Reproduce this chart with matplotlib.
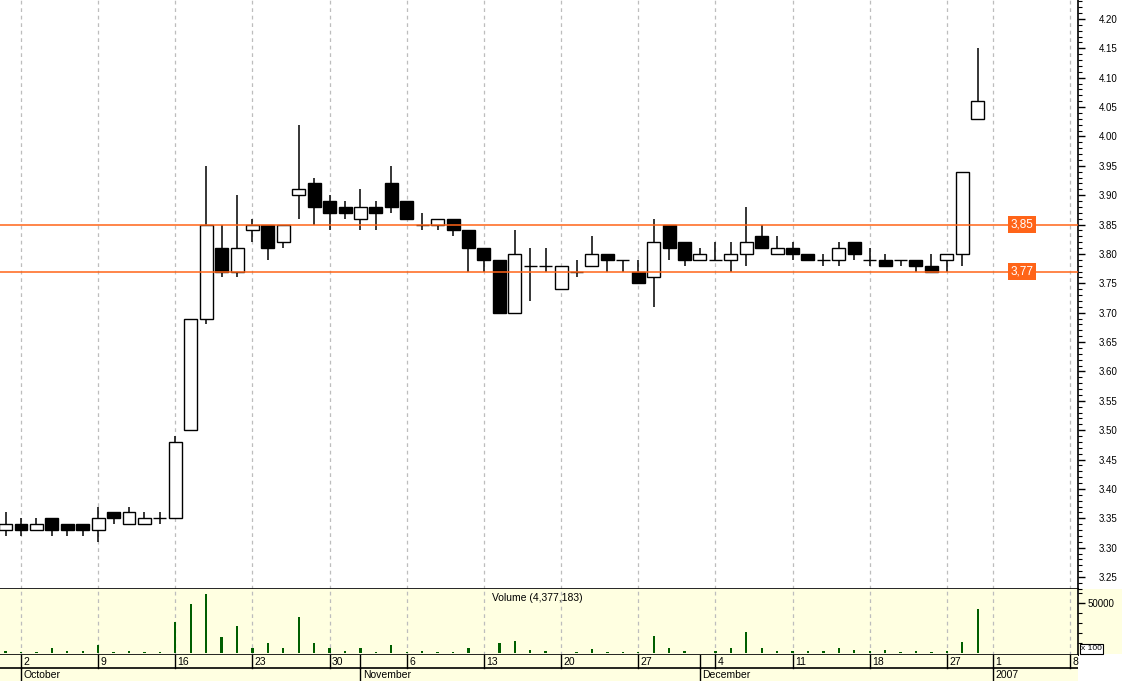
import matplotlib
matplotlib.use("Agg")
import matplotlib.pyplot as plt
from matplotlib.patches import Rectangle
import numpy as np
import pandas as pd

# trading calendar (x positions are trading-day slots); Dec 25/26 closed
calendar = pd.bdate_range("2006-09-29", "2007-01-12")
calendar = calendar[~calendar.isin(pd.to_datetime(["2006-12-25", "2006-12-26"]))]
n_days = 64  # Sep 29 .. Dec 29 have data

opens = [3.33, 3.34, 3.33, 3.35, 3.34, 3.34, 3.33, 3.36, 3.34, 3.34, 3.35,
         3.35, 3.50, 3.69, 3.81, 3.77, 3.84, 3.85, 3.82, 3.90, 3.92,
         3.89, 3.88, 3.86, 3.88, 3.92, 3.89, 3.85, 3.85, 3.86, 3.84,
         3.81, 3.79, 3.70, 3.78, 3.78, 3.74, 3.77, 3.78, 3.80, 3.79,
         3.77, 3.76, 3.85, 3.82, 3.79, 3.79, 3.79, 3.80, 3.83, 3.80,
         3.81, 3.80, 3.79, 3.79, 3.82, 3.79, 3.79, 3.79, 3.79, 3.78,
         3.79, 3.80, 4.03]
highs = [3.36, 3.35, 3.35, 3.35, 3.34, 3.34, 3.37, 3.36, 3.37, 3.36, 3.36,
         3.49, 3.69, 3.95, 3.85, 3.90, 3.86, 3.85, 3.85, 4.02, 3.93,
         3.90, 3.89, 3.91, 3.89, 3.95, 3.89, 3.87, 3.86, 3.86, 3.84,
         3.81, 3.79, 3.84, 3.81, 3.81, 3.78, 3.79, 3.83, 3.80, 3.79,
         3.79, 3.86, 3.85, 3.82, 3.81, 3.82, 3.82, 3.88, 3.85, 3.83,
         3.82, 3.80, 3.80, 3.82, 3.82, 3.81, 3.80, 3.79, 3.79, 3.80,
         3.80, 3.94, 4.15]
lows = [3.32, 3.32, 3.33, 3.32, 3.32, 3.32, 3.31, 3.34, 3.34, 3.34, 3.34,
        3.35, 3.50, 3.68, 3.76, 3.76, 3.82, 3.79, 3.81, 3.86, 3.85,
        3.84, 3.86, 3.84, 3.84, 3.87, 3.86, 3.84, 3.84, 3.83, 3.77,
        3.77, 3.70, 3.70, 3.72, 3.77, 3.74, 3.76, 3.78, 3.77, 3.77,
        3.75, 3.71, 3.79, 3.78, 3.79, 3.79, 3.77, 3.78, 3.81, 3.80,
        3.79, 3.79, 3.78, 3.78, 3.79, 3.78, 3.78, 3.78, 3.77, 3.77,
        3.77, 3.78, 4.03]
closes = [3.34, 3.33, 3.34, 3.33, 3.33, 3.33, 3.35, 3.35, 3.36, 3.35, 3.35,
          3.48, 3.69, 3.85, 3.77, 3.81, 3.85, 3.81, 3.85, 3.91, 3.88,
          3.87, 3.87, 3.88, 3.87, 3.88, 3.86, 3.85, 3.86, 3.84, 3.81,
          3.79, 3.70, 3.80, 3.78, 3.78, 3.78, 3.77, 3.80, 3.79, 3.79,
          3.75, 3.82, 3.81, 3.79, 3.80, 3.79, 3.80, 3.82, 3.81, 3.81,
          3.80, 3.79, 3.79, 3.81, 3.80, 3.79, 3.78, 3.79, 3.78, 3.77,
          3.80, 3.94, 4.06]
# volume in units of 100 shares
volumes = [2600, 1300, 1600, 5600, 2900, 2000, 8200, 1600, 2900, 1600, 1000,
           31000, 48700, 58800, 16700, 26800, 5900, 10500, 5900, 36300, 10800,
           5200, 2000, 5900, 1600, 8200, 1600, 2900, 1300, 1600, 5900,
           500, 10800, 12700, 3600, 2000, 500, 1000, 4600, 1000, 1000,
           1600, 17000, 5900, 2000, 500, 2000, 5900, 21600, 5900, 2600,
           2000, 2000, 2000, 5900, 3900, 2000, 3900, 1000, 2000, 1600,
           2000, 11400, 43770]
levels = [3.85, 3.77]
level_labels = ["3,85", "3,77"]
price_ticks = np.round(np.arange(3.25, 4.201, 0.05), 2)
month_names = {10: "October", 11: "November", 12: "December", 1: "2007"}

YELLOW = "#FFFFE1"
ORANGE = "#FF6418"
GRID = "#BDBDBD"
FONT = "Liberation Sans"

plt.rcParams["font.family"] = [FONT, "DejaVu Sans"]

W, H = 1122, 681
fig = plt.figure(figsize=(W / 100, H / 100), dpi=100)
axw = 1078 / W
ax = fig.add_axes([0, 92 / H, axw, 589 / H])
axv = fig.add_axes([0, 26 / H, axw, 66 / H], sharex=ax)
axd = fig.add_axes([0, 0, axw, 26 / H], sharex=ax)

x = np.arange(n_days)
o = np.array(opens); c = np.array(closes)
xlim = (1 - 1.361, 69.5)

# week starts and month starts in the calendar
week_start = [i for i in range(1, len(calendar))
              if calendar[i].weekday() < calendar[i - 1].weekday()]
month_start = [i for i in range(1, len(calendar))
               if calendar[i].month != calendar[i - 1].month]

# ---- price panel
for i in week_start:
    ax.axvline(i, color=GRID, lw=0.9, ls=(0, (3, 3)), zorder=0)
ax.vlines(x, lows, highs, color="black", lw=1.1, zorder=2)
up = c >= o
ax.bar(x, np.abs(c - o), bottom=np.minimum(o, c), width=0.84,
       color=np.where(up, "white", "black"), edgecolor="black", lw=1.0, zorder=3)
for lv, lab in zip(levels, level_labels):
    ax.axhline(lv, color=ORANGE, lw=1.1, zorder=4)
    ax.text(65.87, lv, lab, color="white", fontsize=8.5, ha="center", va="center",
            zorder=5, bbox=dict(fc=ORANGE, ec="none", pad=1.6))
ax.set_xlim(*xlim)
ax.set_ylim(3.2296, 4.2323)
ax.yaxis.tick_right()
ax.set_yticks(price_ticks)
ax.set_yticklabels(["%.2f" % t for t in price_ticks])
ax.set_yticks(np.arange(3.23, 4.235, 0.01), minor=True)
ax.tick_params(axis="y", which="major", length=5, width=1, pad=10, labelsize=7)
ax.tick_params(axis="y", which="minor", length=3, width=0.8)
ax.tick_params(axis="x", which="both", bottom=False, labelbottom=False)
for s in ["top", "left"]:
    ax.spines[s].set_visible(False)
ax.spines["right"].set_linewidth(1.2)
ax.spines["bottom"].set_linewidth(1.2)

# ---- volume panel
axv.set_facecolor(YELLOW)
for i in week_start:
    axv.axvline(i, color=GRID, lw=0.9, ls=(0, (3, 3)), zorder=0)
axv.bar(x, volumes, width=0.15, color="#005E00", zorder=2)
axv.set_ylim(-1500, 63700)
axv.yaxis.tick_right()
axv.set_yticks([50000])
axv.set_yticklabels(["50000"])
axv.set_yticks(np.arange(10000, 63000, 10000), minor=True)
axv.tick_params(axis="y", which="major", length=5, width=1, pad=2, labelsize=7)
axv.tick_params(axis="y", which="minor", length=3, width=0.8)
axv.tick_params(axis="x", which="both", bottom=False, labelbottom=False)
axv.spines["left"].set_visible(False)
axv.spines["top"].set_visible(False)
axv.spines["right"].set_linewidth(1.2)
axv.spines["bottom"].set_linewidth(1.2)
axv.text(0.498, 0.86, "Volume (4,377,183)", transform=axv.transAxes,
         ha="center", va="center", fontsize=7.5)

fig.add_artist(Rectangle((axw, 1 - 654 / H), 1 - axw, 65 / H,
                         transform=fig.transFigure, fc=YELLOW, ec="none", zorder=-1))
fig.text(1081 / W, 1 - 649 / H, "x 100", fontsize=6, va="center", ha="left",
         bbox=dict(fc="white", ec="black", lw=0.8, pad=0.8))

# ---- date rows
axd.set_facecolor(YELLOW)
axd.set_ylim(0, 2)
axd.set_xlim(*xlim)
axd.axhline(1, color="black", lw=1.2)
for s in ["left", "right", "bottom", "top"]:
    axd.spines[s].set_visible(False)
axd.tick_params(which="both", left=False, bottom=False, labelleft=False, labelbottom=False)
for i in sorted(set(week_start) | set(month_start)):
    axd.plot([i, i], [1, 2], color="black", lw=1.0)
for i in week_start:
    axd.text(i + 0.15, 1.47, str(calendar[i].day), fontsize=7.5, ha="left", va="center")
for i in month_start:
    axd.plot([i, i], [0, 1], color="black", lw=1.0)
    axd.text(i + 0.15, 0.47, month_names[calendar[i].month], fontsize=7.5,
             ha="left", va="center")

fig.savefig("out.png", dpi=100)
